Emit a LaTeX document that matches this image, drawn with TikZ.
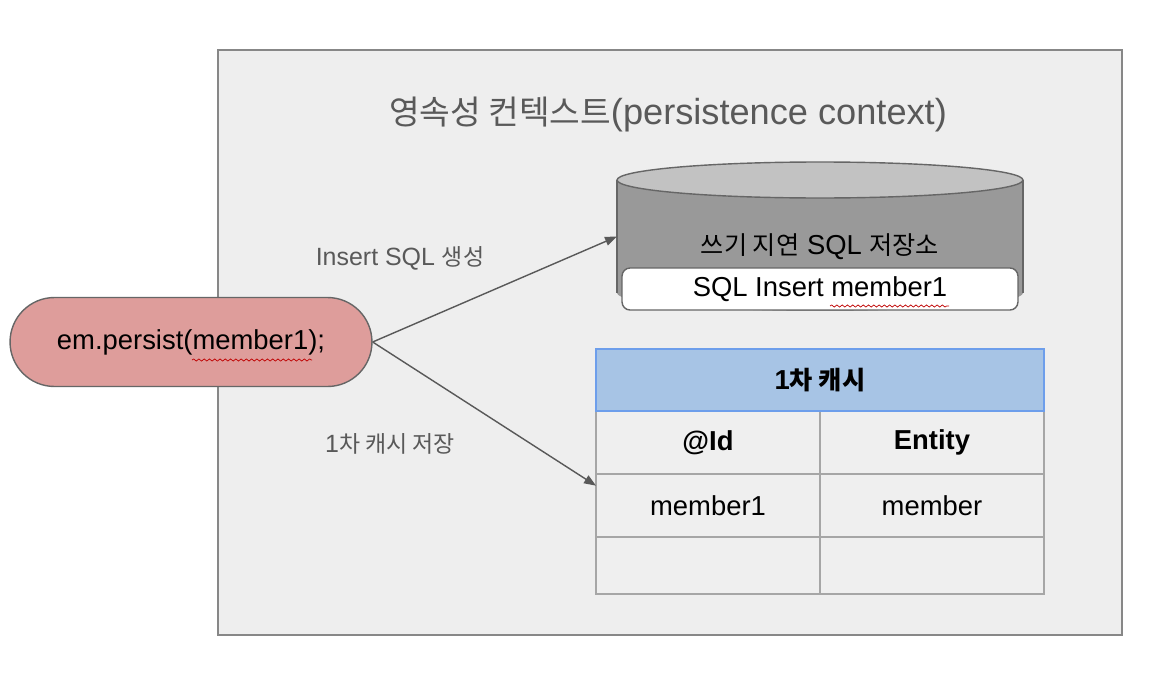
\documentclass[tikz,border=0pt]{standalone}
\usepackage{fontspec}
\setmainfont{Liberation Sans}
\newfontfamily\kr{Noto Sans CJK KR}[Scale=0.92]
\usepackage{xcolor}
\usepackage{tikz}
\usetikzlibrary{positioning, arrows.meta, shapes.misc, decorations.pathmorphing}

\definecolor{ctxbg}{HTML}{EEEEEE}
\definecolor{ctxline}{HTML}{878787}
\definecolor{inkgray}{HTML}{595959}
\definecolor{storebody}{HTML}{999999}
\definecolor{storetop}{HTML}{C2C2C2}
\definecolor{storeline}{HTML}{666666}
\definecolor{pillfill}{HTML}{DE9D9B}
\definecolor{hdrfill}{HTML}{A7C4E5}
\definecolor{hdrline}{HTML}{6D9EEB}
\definecolor{cellbg}{HTML}{EFEFEF}
\definecolor{cellline}{HTML}{A6A6A6}

\begin{document}
\begin{tikzpicture}[x=0.02cm, y=-0.02cm,
    txt/.style={font=\fontsize{15.6}{18}\selectfont, inner sep=0pt},
    note/.style={font=\fontsize{14.2}{17}\selectfont, text=inkgray, inner sep=0pt},
    cell/.style={draw=cellline, fill=cellbg, line width=0.8pt, minimum width=4.48cm, minimum height=1.26cm, inner sep=0pt, outer sep=0pt, font=\fontsize{15.6}{18}\selectfont},
    arrow/.style={-{Triangle[length=2.4mm, width=1.8mm]}, draw=inkgray, fill=inkgray, line width=0.8pt},
    squiggle/.style={draw=red!75!black, line width=0.4pt, decorate, decoration={snake, amplitude=0.6pt, segment length=3pt}}
]

\fill[white] (0,0) rectangle (1164,676);
\useasboundingbox (0,0) rectangle (1164,676);

% persistence context
\node[draw=ctxline, fill=ctxbg, line width=1.2pt, minimum width=18.08cm, minimum height=11.7cm, inner sep=0pt, outer sep=0pt] (ctx) at (670,342.5) {};
\node[font=\fontsize{20.6}{24}\selectfont, text=inkgray, inner sep=0pt] (title) at (668,114) {{\kr 영속성 컨텍스트}(persistence context)};

% write-behind store
\fill[storebody] (617,180) rectangle (1023,293);
\fill[storebody] (820,293) ellipse[x radius=4.06cm, y radius=0.36cm];
\draw[storeline, line width=0.8pt] (617,180) -- (617,293) (1023,180) -- (1023,293);
\filldraw[fill=storetop, draw=storeline, line width=0.8pt] (820,180) ellipse[x radius=4.06cm, y radius=0.36cm];
\node[minimum width=8.12cm, minimum height=2.26cm, inner sep=0pt, outer sep=0pt] (store) at (820,236.5) {};
\node[txt] (storename) at (820,247) {{\kr 쓰기 지연} SQL {\kr 저장소}};
\node[txt, draw=storeline, fill=white, rounded corners=0.16cm, minimum width=7.92cm, minimum height=0.84cm, line width=0.8pt] (sqlrow) at (820,289) {SQL Insert member1};

% persist call
\node[txt, rounded rectangle, draw=storeline, fill=pillfill, line width=0.8pt, minimum width=7.24cm, minimum height=1.78cm] (persist) at (191,342) {em.persist(member1);};

% first-level cache
\node[cell, fill=hdrfill, draw=hdrline, minimum width=8.96cm, minimum height=1.24cm, font=\fontsize{15.6}{18}\selectfont\bfseries] (hdr) at (820,380) {1{\kr 차 캐시}};
\node[cell, anchor=north west] (idh) at (hdr.south west) {\bfseries @Id};
\node[cell, right=0pt of idh] (enth) {\bfseries Entity};
\node[cell, below=0pt of idh] (id1) {member1};
\node[cell, right=0pt of id1] (ent1) {member};
\node[cell, below=0pt of id1, minimum height=1.14cm] (id2) {};
\node[cell, right=0pt of id2, minimum height=1.14cm] (ent2) {};
\draw[hdrline, line width=0.8pt] (hdr.south west) rectangle (hdr.north east);

\draw[arrow] (persist.east) -- (store.west);
\draw[arrow] (persist.east) -- (id1.170);

\node[note] (sqllabel) at (400,258) {Insert SQL {\kr 생성}};
\node[note] (cachelabel) at (390,444) {1{\kr 차 캐시 저장}};

\draw[squiggle] (192,360) -- (312,360);
\draw[squiggle] (830,306) -- (949,306);

\end{tikzpicture}
\end{document}
